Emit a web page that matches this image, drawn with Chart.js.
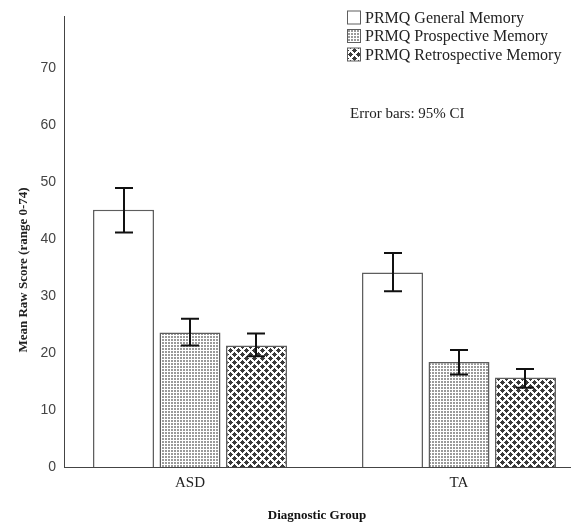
<!DOCTYPE html>
<html>
<head>
<meta charset="utf-8">
<script src="https://cdn.jsdelivr.net/npm/chart.js@4/dist/chart.umd.min.js"></script>
<style>
  html, body { margin: 0; padding: 0; background: #fff; }
  #wrap { width: 573px; height: 526px; }
</style>
</head>
<body>
<div id="wrap"><canvas id="c" width="573" height="526"></canvas></div>
<script>
// ---- data ----
const categories = ['ASD', 'TA'];
const seriesLabels = ['PRMQ General Memory', 'PRMQ Prospective Memory', 'PRMQ Retrospective Memory'];
const generalMean = [45.1, 34.1];
const generalLow = [41.1, 30.8];
const generalHigh = [48.9, 37.5];
const prospectiveMean = [23.6, 18.4];
const prospectiveLow = [21.3, 16.2];
const prospectiveHigh = [26.0, 20.5];
const retrospectiveMean = [21.3, 15.7];
const retrospectiveLow = [19.4, 13.9];
const retrospectiveHigh = [23.4, 17.2];
const yAxisTitle = 'Mean Raw Score (range 0-74)';
const xAxisTitle = 'Diagnostic Group';
const noteText = 'Error bars: 95% CI';

// ---- patterns ----
function makePattern(size, draw) {
  const c = document.createElement('canvas');
  c.width = size; c.height = size;
  const g = c.getContext('2d');
  g.fillStyle = '#fff'; g.fillRect(0, 0, size, size);
  draw(g);
  return document.getElementById('c').getContext('2d').createPattern(c, 'repeat');
}
const dotPattern = makePattern(3, g => {
  g.fillStyle = '#9a9a9a';
  g.fillRect(0, 0, 2, 2);
});
const crossPattern = makePattern(8, g => {
  g.fillStyle = '#3a3a3a';
  const centers = [[2, 2], [6, 6]];
  for (const [cx, cy] of centers) {
    for (const dx of [-8, 0, 8]) for (const dy of [-8, 0, 8]) {
      g.fillRect(cx - 1 + dx, cy - 1 + dy, 3, 3);
      g.fillRect(cx - 2 + dx, cy + dy, 5, 1);
      g.fillRect(cx + dx, cy - 2 + dy, 1, 5);
    }
  }
});
const fills = ['#ffffff', dotPattern, crossPattern];
const means = [generalMean, prospectiveMean, retrospectiveMean];
const lows = [generalLow, prospectiveLow, retrospectiveLow];
const highs = [generalHigh, prospectiveHigh, retrospectiveHigh];

const datasets = seriesLabels.map((lab, i) => ({
  label: lab,
  data: categories.map((c, j) => ({ x: j + 1, y: means[i][j] })),
  backgroundColor: fills[i],
  borderColor: '#5e5e5e',
  borderWidth: 1.5,
  categoryPercentage: 0.7416,
  barPercentage: 0.917
}));

const serif = "'Liberation Serif', 'Times New Roman', serif";

const bgPlugin = {
  id: 'bg',
  beforeDraw(chart) {
    const ctx = chart.ctx;
    ctx.save(); ctx.fillStyle = '#fff';
    ctx.fillRect(0, 0, chart.width, chart.height);
    ctx.restore();
  }
};

const errorBars = {
  id: 'errorBars',
  afterDatasetsDraw(chart) {
    const ctx = chart.ctx;
    const ys = chart.scales.y;
    ctx.save();
    ctx.strokeStyle = '#111';
    ctx.lineWidth = 2;
    chart.data.datasets.forEach((ds, i) => {
      const meta = chart.getDatasetMeta(i);
      meta.data.forEach((el, j) => {
        const x = Math.round(el.x);
        const yl = ys.getPixelForValue(lows[i][j]);
        const yh = ys.getPixelForValue(highs[i][j]);
        const hw = 9;
        ctx.beginPath();
        ctx.moveTo(x, yh); ctx.lineTo(x, yl);
        ctx.moveTo(x - hw, yh); ctx.lineTo(x + hw, yh);
        ctx.moveTo(x - hw, yl); ctx.lineTo(x + hw, yl);
        ctx.stroke();
      });
    });
    ctx.restore();
  }
};

const annotations = {
  id: 'annotations',
  afterDraw(chart) {
    const ctx = chart.ctx;
    ctx.save();
    // legend
    ctx.font = '16px ' + serif;
    ctx.textBaseline = 'middle';
    ctx.textAlign = 'left';
    const rows = [17.5, 36, 54.5];
    chart.data.datasets.forEach((ds, i) => {
      const cy = rows[i];
      ctx.fillStyle = ds.backgroundColor;
      ctx.fillRect(347, cy - 6.5, 13, 13);
      ctx.strokeStyle = '#5e5e5e';
      ctx.lineWidth = 1;
      ctx.strokeRect(347.5, cy - 6.5, 13, 13);
      ctx.fillStyle = '#222';
      ctx.fillText(ds.label, 365, cy + 1);
    });
    // note
    ctx.font = '15px ' + serif;
    ctx.fillStyle = '#222';
    ctx.fillText(noteText, 350, 114);
    // y axis title
    ctx.font = 'bold 13px ' + serif;
    ctx.translate(24, 270);
    ctx.rotate(-Math.PI / 2);
    ctx.textAlign = 'center';
    ctx.fillText(yAxisTitle, 0, 0);
    ctx.restore();
  }
};

new Chart(document.getElementById('c'), {
  type: 'bar',
  data: { datasets },
  options: {
    responsive: false,
    animation: false,
    devicePixelRatio: 1,
    layout: { padding: { top: 8, right: 3, left: 0, bottom: 0 } },
    plugins: {
      legend: { display: false },
      tooltip: { enabled: false }
    },
    scales: {
      x: {
        type: 'linear',
        offset: false,
        bounds: 'data',
        min: 0.5316,
        max: 2.41264,
        grid: { display: false, drawTicks: false, offset: false },
        border: { display: true, color: '#444', width: 1 },
        afterBuildTicks(scale) {
          scale.ticks = categories.map((c, j) => ({ value: j + 1 }));
        },
        afterFit(scale) { scale.height = 59; },
        ticks: {
          autoSkip: false,
          maxRotation: 0,
          padding: 7,
          color: '#222',
          font: { family: serif, size: 15 },
          callback: (v) => categories[Math.round(v) - 1] || ''
        },
        title: {
          display: true,
          text: xAxisTitle,
          color: '#111',
          font: { family: serif, size: 13, weight: 'bold' },
          padding: { top: 0, bottom: 3 }
        }
      },
      y: {
        min: 0,
        max: 79,
        grid: { display: false, drawTicks: false },
        border: { display: true, color: '#444', width: 1 },
        afterBuildTicks(scale) {
          scale.ticks = scale.ticks.filter(t => Math.abs(t.value % 10) < 1e-9);
        },
        afterFit(scale) { scale.width = 64; },
        ticks: {
          stepSize: 10,
          padding: 8,
          color: '#444',
          font: { family: "'Liberation Sans Narrow', 'Liberation Sans', sans-serif", size: 14 }
        }
      }
    }
  },
  plugins: [bgPlugin, errorBars, annotations]
});
</script>
</body>
</html>
